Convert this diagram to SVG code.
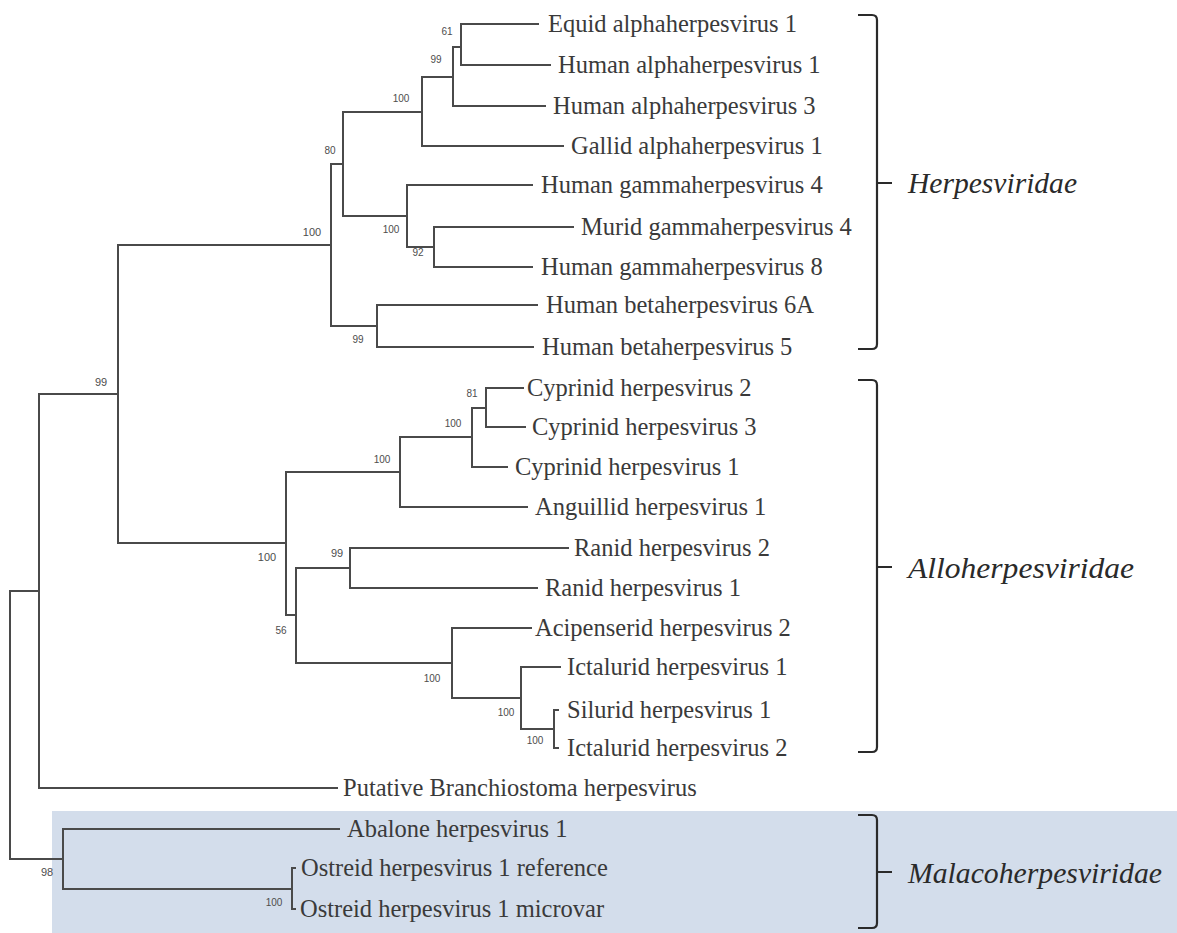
<svg xmlns="http://www.w3.org/2000/svg" width="1177" height="933" viewBox="0 0 1177 933">
<style>
.leaf{font-family:"Liberation Serif","Times New Roman",serif;font-size:24.5px;fill:#3a3a3a}
.bs{font-family:"Liberation Sans",Arial,sans-serif;font-size:10px;fill:#4d4d4d;text-anchor:middle}
.bs.l{font-size:11px}
.fam{font-family:"Liberation Serif","Times New Roman",serif;font-style:italic;font-size:29px;fill:#2a2a2a}
.br{fill:none;stroke:#2a2a2a;stroke-width:2.2}
.edges path{fill:none;stroke:#4a4a4a;stroke-width:2;stroke-linecap:square}
</style>
<rect width="1177" height="933" fill="#ffffff"/>
<rect id="malaco-bg" x="52" y="811" width="1125" height="122" fill="#d3ddeb"/>

<g id="connectors" class="edges">
<path d="M461,24 H538 M461,65 H550 M461,24 V65 M453,47 H461 M453,106 H545 M453,47 V106 M422,77 H453 M422,146 H563 M422,77 V146 M343,112 H422"/>
<path d="M407,185 H532 M434,227 H573 M434,267 H532 M434,227 V267 M407,247 H434 M407,185 V247 M343,216 H407 M343,112 V216 M331,164 H343"/>
<path d="M377,305 H537 M377,347 H533 M377,305 V347 M331,326 H377 M331,164 V326 M118,245 H331"/>
<path d="M486,388 H523 M486,427 H525 M486,388 V427 M472,408 H486 M472,467 H507 M472,408 V467 M400,437 H472 M400,507 H527 M400,437 V507 M286,472 H400"/>
<path d="M350,548 H568 M350,588 H537 M350,548 V588 M296,568 H350"/>
<path d="M452,628 H531 M521,667 H560 M554,710 H558 M554,748 H558 M554,710 V748 M521,729 H554 M521,667 V729 M452,698 H521 M452,628 V698 M296,663 H452 M296,568 V663 M286,615 H296 M286,472 V615 M118,543 H286"/>
<path d="M118,245 V543 M39,394 H118 M39,788 H337 M39,394 V788 M10,591 H39"/>
<path d="M63,829 H339 M292,868 H295 M292,909 H295 M292,868 V909 M63,889 H292 M63,829 V889 M10,859 H63 M10,591 V859"/>
</g>

<g id="support">
<text class="bs" x="447" y="35">61</text>
<text class="bs" x="436" y="63">99</text>
<text class="bs" x="401" y="102">100</text>
<text class="bs" x="330" y="154">80</text>
<text class="bs" x="391" y="233">100</text>
<text class="bs" x="418" y="256">92</text>
<text class="bs l" x="312" y="236">100</text>
<text class="bs" x="358" y="343">99</text>
<text class="bs l" x="101" y="386">99</text>
<text class="bs" x="472" y="397">81</text>
<text class="bs" x="453" y="427">100</text>
<text class="bs" x="382" y="463">100</text>
<text class="bs l" x="267" y="561">100</text>
<text class="bs l" x="337" y="557">99</text>
<text class="bs" x="281" y="634">56</text>
<text class="bs" x="432" y="682">100</text>
<text class="bs" x="506" y="716">100</text>
<text class="bs" x="535" y="744">100</text>
<text class="bs l" x="47" y="876">98</text>
<text class="bs" x="274" y="906">100</text>
</g>

<g id="leaf-equid1"><text class="leaf" x="548" y="32">Equid alphaherpesvirus 1</text></g>
<g id="leaf-humanalpha1"><text class="leaf" x="558" y="73">Human alphaherpesvirus 1</text></g>
<g id="leaf-humanalpha3"><text class="leaf" x="553" y="114">Human alphaherpesvirus 3</text></g>
<g id="leaf-gallid1"><text class="leaf" x="571" y="154">Gallid alphaherpesvirus 1</text></g>
<g id="leaf-humangamma4"><text class="leaf" x="541" y="193">Human gammaherpesvirus 4</text></g>
<g id="leaf-murid4"><text class="leaf" x="581" y="235">Murid gammaherpesvirus 4</text></g>
<g id="leaf-humangamma8"><text class="leaf" x="541" y="275">Human gammaherpesvirus 8</text></g>
<g id="leaf-humanbeta6a"><text class="leaf" x="546" y="313">Human betaherpesvirus 6A</text></g>
<g id="leaf-humanbeta5"><text class="leaf" x="542" y="355">Human betaherpesvirus 5</text></g>
<g id="leaf-cyprinid2"><text class="leaf" x="527" y="396">Cyprinid herpesvirus 2</text></g>
<g id="leaf-cyprinid3"><text class="leaf" x="532" y="435">Cyprinid herpesvirus 3</text></g>
<g id="leaf-cyprinid1"><text class="leaf" x="515" y="475">Cyprinid herpesvirus 1</text></g>
<g id="leaf-anguillid1"><text class="leaf" x="535" y="515">Anguillid herpesvirus 1</text></g>
<g id="leaf-ranid2"><text class="leaf" x="574" y="556">Ranid herpesvirus 2</text></g>
<g id="leaf-ranid1"><text class="leaf" x="545" y="596">Ranid herpesvirus 1</text></g>
<g id="leaf-acipenserid2"><text class="leaf" x="535" y="636">Acipenserid herpesvirus 2</text></g>
<g id="leaf-ictalurid1"><text class="leaf" x="567" y="675">Ictalurid herpesvirus 1</text></g>
<g id="leaf-silurid1"><text class="leaf" x="567" y="718">Silurid herpesvirus 1</text></g>
<g id="leaf-ictalurid2"><text class="leaf" x="567" y="756">Ictalurid herpesvirus 2</text></g>
<g id="leaf-branchiostoma"><text class="leaf" x="343" y="796">Putative Branchiostoma herpesvirus</text></g>
<g id="leaf-abalone1"><text class="leaf" x="347" y="837">Abalone herpesvirus 1</text></g>
<g id="leaf-ostreid-ref"><text class="leaf" x="301" y="876">Ostreid herpesvirus 1 reference</text></g>
<g id="leaf-ostreid-micro"><text class="leaf" x="300" y="917">Ostreid herpesvirus 1 microvar</text></g>

<g id="family-herpesviridae">
<path class="br" d="M858,15 H872 Q877,15 877,20 V344 Q877,349 872,349 H858 M877,183 H892"/>
<text class="fam" x="908" y="193" textLength="169" lengthAdjust="spacingAndGlyphs">Herpesviridae</text>
</g>
<g id="family-alloherpesviridae">
<path class="br" d="M858,380 H872 Q877,380 877,385 V747 Q877,752 872,752 H858 M877,567 H892"/>
<text class="fam" x="908" y="578" textLength="226" lengthAdjust="spacingAndGlyphs">Alloherpesviridae</text>
</g>
<g id="family-malacoherpesviridae">
<path class="br" d="M858,815 H872 Q877,815 877,820 V923 Q877,928 872,928 H858 M877,872 H892"/>
<text class="fam" x="908" y="883" textLength="254" lengthAdjust="spacingAndGlyphs">Malacoherpesviridae</text>
</g>
</svg>
